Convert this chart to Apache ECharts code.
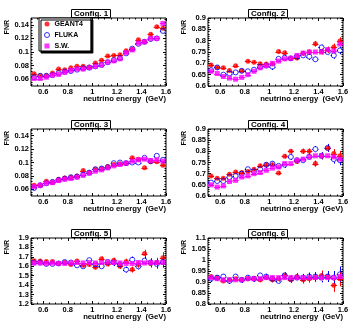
<!DOCTYPE html>
<html>
<head>
<meta charset="utf-8">
<script src="https://cdn.jsdelivr.net/npm/echarts@6.0.0/dist/echarts.min.js"></script>
<style>
  html, body { margin: 0; padding: 0; background: #fff; }
  #chart { width: 355px; height: 329px; }
</style>
</head>
<body>
<div id="chart"></div>
<script>
  // bin centres (GeV), bin width 0.05
  const energy = [0.525, 0.575, 0.625, 0.675, 0.725, 0.775, 0.825, 0.875, 0.925, 0.975, 1.025,
                  1.075, 1.125, 1.175, 1.225, 1.275, 1.325, 1.375, 1.425, 1.475, 1.525, 1.575];
  const binHalf = 0.025;

  const xTicks = [0.6, 0.8, 1, 1.2, 1.4, 1.6];
  const yTicksLow = [0.06, 0.08, 0.1, 0.12, 0.14];
  const yTicksHigh = [0.6, 0.65, 0.7, 0.75, 0.8, 0.85, 0.9];
  const yTicks5 = [1.2, 1.3, 1.4, 1.5, 1.6, 1.7, 1.8, 1.9];
  const yTicks6 = [0.8, 0.85, 0.9, 0.95, 1, 1.05, 1.1];

  const configNames = ['Config. 1', 'Config. 2', 'Config. 3', 'Config. 4', 'Config. 5', 'Config. 6'];

  // Config. 1
  const g4_1 = [0.068, 0.065, 0.065, 0.069, 0.075, 0.074, 0.077, 0.079, 0.079, 0.078, 0.084, 0.088, 0.094, 0.095, 0.096, 0.102, 0.104, 0.118, 0.115, 0.126, 0.137, 0.135];
  const fl_1 = [0.063, 0.065, 0.065, 0.066, 0.069, 0.071, 0.072, 0.074, 0.076, 0.077, 0.079, 0.081, 0.085, 0.088, 0.091, 0.098, 0.105, 0.112, 0.115, 0.119, 0.120, 0.131];
  const sw_1 = [0.061, 0.061, 0.063, 0.066, 0.067, 0.070, 0.073, 0.075, 0.075, 0.077, 0.079, 0.081, 0.085, 0.087, 0.090, 0.099, 0.103, 0.113, 0.115, 0.120, 0.120, 0.142];
  const err_1 = [0.0015, 0.0015, 0.0015, 0.0015, 0.0015, 0.0015, 0.0015, 0.0016, 0.0016, 0.0016, 0.0017, 0.0017, 0.0018, 0.0018, 0.0019, 0.002, 0.002, 0.0022, 0.0022, 0.0024, 0.0025, 0.0028];

  // Config. 2
  const g4_2 = [0.693, 0.682, 0.680, 0.668, 0.689, 0.667, 0.709, 0.705, 0.698, 0.697, 0.697, 0.752, 0.747, 0.722, 0.724, 0.745, 0.750, 0.786, 0.752, 0.760, 0.772, 0.798];
  const fl_2 = [0.670, 0.682, 0.650, 0.655, 0.660, 0.667, 0.665, 0.672, 0.685, 0.690, 0.685, 0.720, 0.725, 0.722, 0.730, 0.735, 0.730, 0.718, 0.770, 0.750, 0.735, 0.757];
  const sw_2 = [0.665, 0.655, 0.642, 0.635, 0.630, 0.638, 0.650, 0.665, 0.680, 0.690, 0.700, 0.710, 0.720, 0.722, 0.735, 0.745, 0.750, 0.750, 0.750, 0.760, 0.755, 0.785];
  const err_2 = [0.006, 0.006, 0.006, 0.006, 0.006, 0.006, 0.006, 0.007, 0.007, 0.007, 0.008, 0.008, 0.009, 0.009, 0.010, 0.010, 0.011, 0.012, 0.013, 0.014, 0.015, 0.017];

  // Config. 3
  const g4_3 = [0.066, 0.066, 0.072, 0.071, 0.075, 0.077, 0.078, 0.080, 0.088, 0.085, 0.090, 0.091, 0.094, 0.097, 0.098, 0.099, 0.107, 0.105, 0.092, 0.101, 0.101, 0.096];
  const fl_3 = [0.062, 0.066, 0.069, 0.071, 0.074, 0.076, 0.078, 0.079, 0.082, 0.085, 0.090, 0.091, 0.093, 0.099, 0.100, 0.099, 0.100, 0.100, 0.107, 0.102, 0.110, 0.104];
  const sw_3 = [0.064, 0.066, 0.069, 0.070, 0.073, 0.075, 0.076, 0.078, 0.081, 0.084, 0.087, 0.089, 0.092, 0.095, 0.097, 0.099, 0.102, 0.104, 0.105, 0.103, 0.104, 0.102];
  const err_3 = [0.0015, 0.0015, 0.0015, 0.0015, 0.0015, 0.0015, 0.0016, 0.0016, 0.0016, 0.0017, 0.0017, 0.0018, 0.0018, 0.0019, 0.0019, 0.002, 0.002, 0.0021, 0.0022, 0.0023, 0.0024, 0.0025];

  // Config. 4
  const g4_4 = [0.690, 0.680, 0.680, 0.697, 0.708, 0.705, 0.710, 0.720, 0.735, 0.740, 0.740, 0.703, 0.778, 0.800, 0.755, 0.800, 0.800, 0.745, 0.780, 0.815, 0.790, 0.780];
  const fl_4 = [0.660, 0.667, 0.667, 0.685, 0.690, 0.700, 0.720, 0.710, 0.720, 0.740, 0.745, 0.735, 0.740, 0.775, 0.760, 0.760, 0.775, 0.810, 0.780, 0.815, 0.765, 0.760];
  const sw_4 = [0.650, 0.640, 0.645, 0.665, 0.670, 0.685, 0.690, 0.700, 0.705, 0.715, 0.725, 0.730, 0.745, 0.745, 0.760, 0.765, 0.775, 0.780, 0.780, 0.780, 0.775, 0.765];
  const err_4 = [0.006, 0.006, 0.006, 0.006, 0.007, 0.007, 0.007, 0.008, 0.008, 0.008, 0.009, 0.009, 0.010, 0.010, 0.011, 0.012, 0.013, 0.014, 0.016, 0.018, 0.020, 0.022];

  // Config. 5
  const g4_5 = [1.660, 1.655, 1.650, 1.650, 1.630, 1.640, 1.620, 1.655, 1.610, 1.620, 1.590, 1.680, 1.625, 1.665, 1.600, 1.650, 1.565, 1.620, 1.735, 1.630, 1.640, 1.690];
  const fl_5 = [1.640, 1.640, 1.625, 1.625, 1.630, 1.645, 1.640, 1.610, 1.600, 1.665, 1.620, 1.600, 1.645, 1.640, 1.620, 1.565, 1.670, 1.600, 1.660, 1.640, 1.625, 1.645];
  const sw_5 = [1.635, 1.635, 1.630, 1.635, 1.630, 1.630, 1.635, 1.640, 1.635, 1.640, 1.635, 1.640, 1.645, 1.640, 1.635, 1.630, 1.630, 1.640, 1.635, 1.640, 1.640, 1.640];
  const err_5 = [0.015, 0.015, 0.015, 0.016, 0.016, 0.017, 0.018, 0.019, 0.020, 0.021, 0.022, 0.023, 0.025, 0.026, 0.028, 0.030, 0.032, 0.035, 0.040, 0.045, 0.050, 0.060];

  // Config. 6
  const g4_6 = [0.925, 0.920, 0.905, 0.910, 0.915, 0.910, 0.915, 0.915, 0.910, 0.920, 0.910, 0.915, 0.930, 0.910, 0.925, 0.910, 0.915, 0.920, 0.930, 0.925, 0.885, 0.915];
  const fl_6 = [0.915, 0.920, 0.925, 0.905, 0.925, 0.910, 0.920, 0.915, 0.930, 0.925, 0.915, 0.905, 0.930, 0.915, 0.920, 0.920, 0.925, 0.925, 0.920, 0.925, 0.920, 0.935];
  const sw_6 = [0.920, 0.915, 0.910, 0.910, 0.910, 0.910, 0.915, 0.915, 0.915, 0.920, 0.920, 0.920, 0.920, 0.920, 0.920, 0.920, 0.920, 0.920, 0.920, 0.920, 0.920, 0.925];
  const err_6 = [0.008, 0.008, 0.008, 0.009, 0.009, 0.009, 0.010, 0.010, 0.011, 0.011, 0.012, 0.013, 0.014, 0.015, 0.016, 0.017, 0.018, 0.020, 0.022, 0.025, 0.030, 0.035];

  const panels = [
    {g4: g4_1, fl: fl_1, sw: sw_1, err: err_1, ymin: 0.05, ymax: 0.15, yt: yTicksLow, ystep: 0.004},
    {g4: g4_2, fl: fl_2, sw: sw_2, err: err_2, ymin: 0.6, ymax: 0.9, yt: yTicksHigh, ystep: 0.01},
    {g4: g4_3, fl: fl_3, sw: sw_3, err: err_3, ymin: 0.05, ymax: 0.15, yt: yTicksLow, ystep: 0.004},
    {g4: g4_4, fl: fl_4, sw: sw_4, err: err_4, ymin: 0.6, ymax: 0.9, yt: yTicksHigh, ystep: 0.01},
    {g4: g4_5, fl: fl_5, sw: sw_5, err: err_5, ymin: 1.2, ymax: 1.9, yt: yTicks5, ystep: 0.02},
    {g4: g4_6, fl: fl_6, sw: sw_6, err: err_6, ymin: 0.8, ymax: 1.1, yt: yTicks6, ystep: 0.01}
  ];

  const FONT = '"Liberation Sans", Arial, Helvetica, sans-serif';
  const RED = '#ff0000', BLUE = '#0000ff', MAG = '#ff00ff';
  const colLeft = [31, 208];
  const plotW = 135;
  const rowTop = [18, 129, 238];
  const rowH = [68, 67, 66];

  function fmt(v) {
    return String(parseFloat(v.toFixed(3)));
  }

  // minor tick positions between min and max, anchored at a major tick
  function minorTicks(min, max, start, step) {
    let out = [];
    let k0 = Math.ceil((min - start) / step - 1e-6);
    let k1 = Math.floor((max - start) / step + 1e-6);
    for (let k = k0; k <= k1; k++) out.push(parseFloat((start + k * step).toFixed(6)));
    return out;
  }

  function errBars(color, gap) {
    return function (params, api) {
      let x = api.value(0), y = api.value(1), e = api.value(2);
      let c = api.coord([x, y]);
      let l = api.coord([x - binHalf, y]);
      let r = api.coord([x + binHalf, y]);
      let t = api.coord([x, y + e]);
      let b = api.coord([x, y - e]);
      let px = Math.round(c[0]) + 0.5, py = Math.round(c[1]) + 0.5;
      let segs = [];
      let add = (x1, y1, x2, y2) => segs.push({
        type: 'line', shape: {x1: x1, y1: y1, x2: x2, y2: y2},
        style: {stroke: color, lineWidth: 1}
      });
      if (gap > 0) {
        add(l[0], py, px - gap, py);
        add(px + gap, py, r[0], py);
        if (py - t[1] > gap) {
          add(px, t[1], px, py - gap);
          add(px, py + gap, px, b[1]);
        }
      } else {
        add(l[0], py, r[0], py);
        if (b[1] - t[1] > 1) add(px, t[1], px, b[1]);
      }
      return {type: 'group', children: segs};
    };
  }

  let grids = [], xAxes = [], yAxes = [], series = [], titles = [], graphics = [];
  const xMinor = minorTicks(0.5, 1.6, 0.6, 0.05);

  panels.forEach((p, i) => {
    let col = i % 2, row = Math.floor(i / 2);
    let left = colLeft[col], top = rowTop[row], h = rowH[row];
    grids.push({
      left: left, top: top, width: plotW, height: h,
      show: true, borderColor: '#000', borderWidth: 1, backgroundColor: '#fff'
    });
    let yMinor = minorTicks(p.ymin, p.ymax, p.yt[0], p.ystep);

    // x axes: bottom major (labels), bottom minor, top major, top minor
    ['bottom', 'top'].forEach(pos => {
      xAxes.push({
        gridIndex: i, type: 'value', min: 0.5, max: 1.6, position: pos,
        axisLine: {show: false}, splitLine: {show: false},
        axisTick: {show: true, inside: true, length: 3, customValues: xTicks, lineStyle: {color: '#000', width: 1}},
        axisLabel: pos === 'bottom'
          ? {show: true, customValues: xTicks, formatter: fmt, margin: 2, color: '#000',
             fontSize: 7.5, fontWeight: 'bold', fontFamily: FONT}
          : {show: false}
      });
      xAxes.push({
        gridIndex: i, type: 'value', min: 0.5, max: 1.6, position: pos,
        axisLine: {show: false}, splitLine: {show: false},
        axisTick: {show: true, inside: true, length: 1.5, customValues: xMinor, lineStyle: {color: '#000', width: 1}},
        axisLabel: {show: false}
      });
    });

    ['left', 'right'].forEach(pos => {
      yAxes.push({
        gridIndex: i, type: 'value', min: p.ymin, max: p.ymax, position: pos,
        axisLine: {show: false}, splitLine: {show: false},
        axisTick: {show: true, inside: true, length: 3, customValues: p.yt, lineStyle: {color: '#000', width: 1}},
        axisLabel: pos === 'left'
          ? {show: true, customValues: p.yt, formatter: fmt, margin: 2, color: '#000',
             fontSize: 7.5, fontWeight: 'bold', fontFamily: FONT}
          : {show: false}
      });
      yAxes.push({
        gridIndex: i, type: 'value', min: p.ymin, max: p.ymax, position: pos,
        axisLine: {show: false}, splitLine: {show: false},
        axisTick: {show: true, inside: true, length: 1.5, customValues: yMinor, lineStyle: {color: '#000', width: 1}},
        axisLabel: {show: false}
      });
    });

    let ax = 4 * i;
    let sets = [
      {name: 'GEANT4', vals: p.g4, err: p.err, color: RED, gap: 0, symbol: 'circle',
       itemStyle: {color: RED}},
      {name: 'FLUKA', vals: p.fl, err: p.err, color: BLUE, gap: 2.5, symbol: 'circle',
       itemStyle: {color: 'rgba(255,255,255,0)', borderColor: BLUE, borderWidth: 1}},
      {name: 'S.W.', vals: p.sw, err: null, color: MAG, gap: 0, symbol: 'rect',
       itemStyle: {color: MAG}}
    ];
    sets.forEach(s => {
      series.push({
        type: 'custom', name: s.name + ' err', xAxisIndex: ax, yAxisIndex: ax, silent: true,
        renderItem: errBars(s.color, s.gap),
        data: energy.map((e, k) => [e, s.vals[k], s.err ? s.err[k] : 0])
      });
      series.push({
        type: 'scatter', name: s.name, xAxisIndex: ax, yAxisIndex: ax, silent: true,
        symbol: s.symbol, symbolSize: s.symbol === 'rect' ? 5 : 5,
        itemStyle: s.itemStyle,
        data: energy.map((e, k) => [e, s.vals[k]])
      });
    });

    titles.push({
      text: configNames[i], left: left + 40, top: top - 9,
      padding: [1, 3, 0, 3], borderWidth: 1, borderColor: '#000', backgroundColor: '#fff',
      textStyle: {fontSize: 8, fontWeight: 'bold', fontFamily: FONT, color: '#000', lineHeight: 8}
    });

    graphics.push({
      type: 'text', x: left - 24, y: top + 2, rotation: Math.PI / 2,
      style: {text: 'FNR', align: 'right', verticalAlign: 'middle', fill: '#000',
              font: 'bold 7px ' + FONT}
    });
    graphics.push({
      type: 'text', x: left + plotW, y: top + h + 13,
      style: {text: 'neutrino energy  (GeV)', align: 'right', verticalAlign: 'middle', fill: '#000',
              font: 'bold 7.7px ' + FONT}
    });
  });

  let chart = echarts.init(document.getElementById('chart'), null, {renderer: 'canvas'});
  chart.setOption({
    animation: false,
    backgroundColor: '#fff',
    title: titles,
    grid: grids,
    xAxis: xAxes,
    yAxis: yAxes,
    series: series,
    graphic: graphics,
    legend: {
      data: [
        {name: 'GEANT4', icon: 'circle', itemStyle: {color: RED}},
        {name: 'FLUKA', icon: 'circle', itemStyle: {color: '#fff', borderColor: BLUE, borderWidth: 1}},
        {name: 'S.W.', icon: 'rect', itemStyle: {color: MAG}}
      ],
      orient: 'vertical', left: 39, top: 18, z: 10,
      itemWidth: 5, itemHeight: 5, itemGap: 3,
      padding: [2, 8, 1, 5],
      selectedMode: false,
      backgroundColor: '#fff', borderColor: '#000', borderWidth: 1,
      shadowColor: '#000', shadowOffsetX: 2, shadowOffsetY: 2, shadowBlur: 0,
      textStyle: {fontSize: 7, fontWeight: 'bold', fontFamily: FONT, color: '#000', lineHeight: 8}
    }
  });
</script>
</body>
</html>
